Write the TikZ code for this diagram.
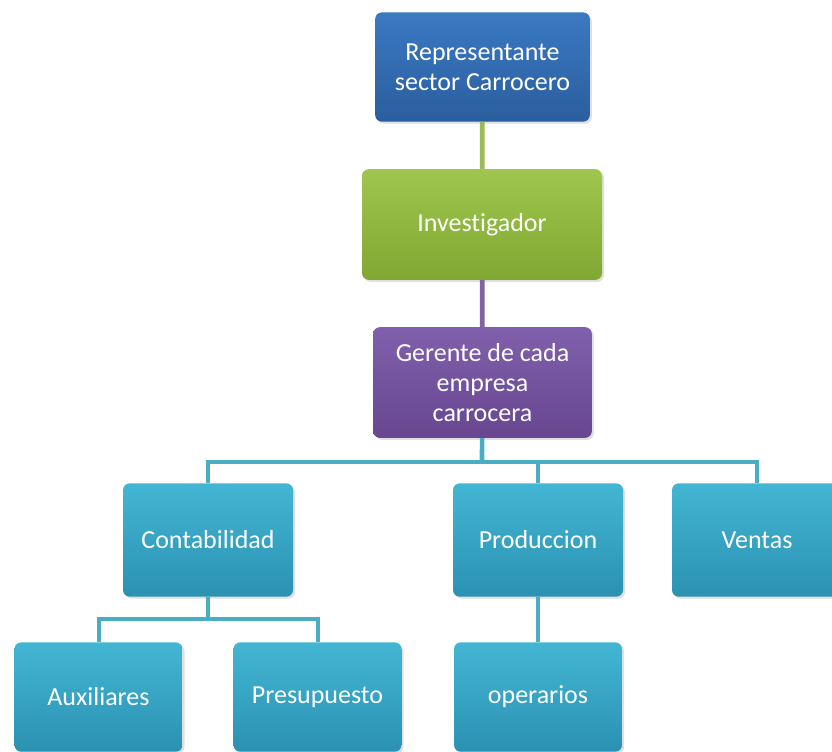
\documentclass[tikz,border=0pt]{standalone}
\usepackage{fontspec}
\setmainfont[Ligatures=NoCommon]{Carlito}
\usepackage{tikz}
\usetikzlibrary{shadows}
\definecolor{bluetop}{HTML}{3B79C2}
\definecolor{bluebot}{HTML}{2A5E9E}
\definecolor{greentop}{HTML}{9FC64E}
\definecolor{greenbot}{HTML}{80A832}
\definecolor{purpletop}{HTML}{8060AC}
\definecolor{purplebot}{HTML}{684690}
\definecolor{aquatop}{HTML}{43B6D4}
\definecolor{aquabot}{HTML}{2B91B2}
\definecolor{greenline}{HTML}{9BBB59}
\definecolor{purpleline}{HTML}{8064A2}
\definecolor{aqualine}{HTML}{4BACC6}

\begin{document}
\begin{tikzpicture}[x=0.75pt, y=-0.75pt,
    every node/.style={rectangle, rounded corners=5pt, text=white, align=center,
        font=\fontsize{19.5}{22.5}\selectfont, inner sep=0pt,
        drop shadow={opacity=0.25, shadow xshift=1.5pt, shadow yshift=-1.5pt}},
    unit/.style={top color=aquatop, bottom color=aquabot, minimum width=127.5pt, minimum height=85pt},
    sub/.style={top color=aquatop, bottom color=aquabot, minimum width=126pt, minimum height=82pt},
    link/.style={line width=3.5pt, color=#1}]
    \useasboundingbox (0, 0) rectangle (832, 751);

    % Top chain
    \node [top color=bluetop, bottom color=bluebot, minimum width=161pt, minimum height=82pt] (rep) at (482.5, 67) {Representante\\sector Carrocero};
    \node [top color=greentop, bottom color=greenbot, minimum width=180pt, minimum height=83pt] (inv) at (482, 224.5) {Investigador};
    \node [top color=purpletop, bottom color=purplebot, minimum width=164pt, minimum height=83pt] (ger) at (482.5, 382.5) {Gerente de cada\\empresa\\carrocera};

    % Departments
    \node [unit] (con) at (208, 540) {Contabilidad};
    \node [unit] (pro) at (538, 540) {Produccion};
    \node [unit] (ven) at (757, 540) {Ventas};

    % Second level
    \node [sub] (aux) at (98.5, 697) {Auxiliares};
    \node [sub] (pre) at (317.5, 697) {Presupuesto};
    \node [sub] (ope) at (538, 697) {operarios};

    % Connectors
    \coordinate (bus) at (482, 462);
    \coordinate (cbus) at (208, 619);
    \draw [link=greenline] (rep) -- (inv);
    \draw [link=purpleline] (inv) -- (ger);
    \draw [link=aqualine] (ger) -- (bus);
    \foreach \d in {con, pro, ven}
    \draw [link=aqualine, line width=3pt] (bus) -| (\d);
    \draw [link=aqualine, line width=3pt] (con) -- (cbus);
    \foreach \s in {aux, pre}
    \draw [link=aqualine, line width=3pt] (cbus) -| (\s);
    \draw [link=aqualine, line width=3pt] (pro) -- (ope);

\end{tikzpicture}
\end{document}
